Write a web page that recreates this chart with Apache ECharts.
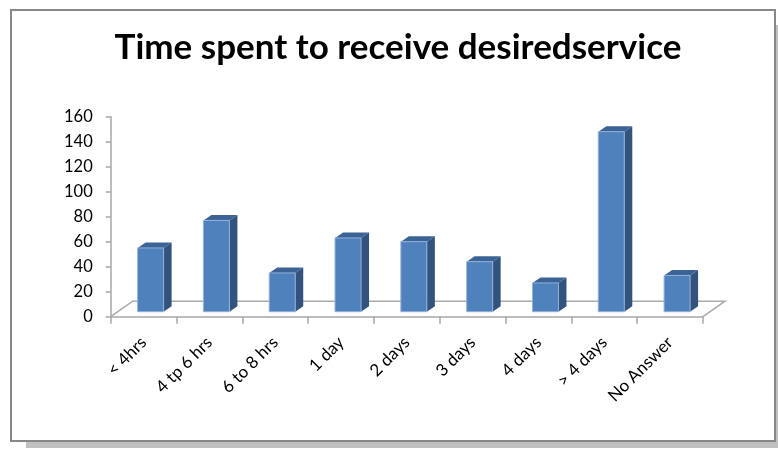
<!DOCTYPE html>
<html><head><meta charset="utf-8">
<script src="https://cdn.jsdelivr.net/npm/echarts@6/dist/echarts.min.js"></script>
<style>html,body{margin:0;padding:0;background:#fff}#c{width:778px;height:449px}</style>
</head><body><div id="c"></div>
<script>
const titleText = 'Time spent to receive desiredservice';
const categories = ['< 4hrs', '4 tp 6 hrs', '6 to 8 hrs', '1 day', '2 days', '3 days', '4 days', '> 4 days', 'No Answer'];
const values = [51, 73, 31, 59, 56, 40, 23, 144, 29];
const yMin = 0, yMax = 160, yInterval = 20;

const FONT = 'Lato';
const barData = values.map((v, i) => [i, v]);

function renderBar(params, api) {
  const i = api.value(0), v = api.value(1);
  const base = api.coord([i, 0]);
  const top = api.coord([i, v]);
  const band = api.size([1, 0])[0];
  const w = band * 0.395;
  const ox = 7, oy = -5, dx = 8, dy = -5.5;
  const xl = base[0] - w / 2 + ox, xr = xl + w;
  const yb = base[1] + oy, yt = top[1] + oy;
  return {
    type: 'group',
    children: [
      { type: 'polygon', shape: { points: [[xr, yb], [xr + dx, yb + dy], [xr + dx, yt + dy], [xr, yt]] }, style: { fill: '#31537e' } },
      { type: 'polygon', shape: { points: [[xl, yt], [xr, yt], [xr + dx, yt + dy], [xl + dx, yt + dy]] }, style: { fill: '#3b6396' } },
      { type: 'rect', shape: { x: xl, y: yt, width: w, height: yb - yt }, style: { fill: '#4f81bd', stroke: '#93b0d8', lineWidth: 1 } }
    ]
  };
}

function renderFloor(params, api) {
  const n = categories.length;
  const c0 = api.coord([0, 0]);
  const c1 = api.coord([n - 1, 0]);
  const band = api.size([1, 0])[0];
  const x0 = c0[0] - band / 2, x1 = c1[0] + band / 2, y = c0[1];
  const fx = 22, fy = -15.5;
  return {
    type: 'polyline',
    shape: { points: [[x0, y], [x0 + fx, y + fy], [x1 + fx, y + fy], [x1, y]] },
    style: { stroke: '#ababab', lineWidth: 1.5, fill: null }
  };
}

const chart = echarts.init(document.getElementById('c'), null, { renderer: 'canvas' });
chart.setOption({
  animation: false,
  backgroundColor: '#ffffff',
  graphic: [
    { type: 'rect', z: -10, shape: { x: 26, y: 25, width: 752, height: 423 }, style: { fill: '#c0c0c0' } },
    { type: 'rect', z: -9, shape: { x: 11, y: 10, width: 764, height: 431 }, style: { fill: '#ffffff', stroke: '#888888', lineWidth: 2 } }
  ],
  title: {
    text: titleText,
    left: 393,
    textAlign: 'center',
    top: 25,
    textStyle: { fontFamily: FONT, fontWeight: 'bold', fontSize: 35, color: '#000' }
  },
  grid: { left: 110.7, right: 75, top: 116.7, bottom: 132.3, containLabel: false },
  xAxis: {
    type: 'category',
    data: categories,
    boundaryGap: true,
    axisLine: { show: true, lineStyle: { color: '#a6a6a6', width: 1.5 } },
    axisTick: { show: true, interval: 0, length: 7, lineStyle: { color: '#a6a6a6', width: 1.5 } },
    axisLabel: { interval: 0, rotate: 45, margin: 23, fontFamily: FONT, fontSize: 17, color: '#000' },
    splitLine: { show: false }
  },
  yAxis: {
    type: 'value',
    min: yMin, max: yMax, interval: yInterval,
    axisLine: { show: true, lineStyle: { color: '#a6a6a6', width: 1.5 } },
    axisTick: { show: true, length: 5, lineStyle: { color: '#a6a6a6', width: 1.5 } },
    axisLabel: { margin: 18, fontFamily: FONT, fontSize: 16.5, color: '#000' },
    splitLine: { show: false }
  },
  series: [
    { type: 'custom', name: 'floor', silent: true, z: 1, renderItem: renderFloor, data: [[0, 0]], encode: { x: 0, y: 1 } },
    { type: 'custom', name: 'Time spent', z: 3, renderItem: renderBar, data: barData, encode: { x: 0, y: 1 } }
  ]
});
</script>
</body></html>
